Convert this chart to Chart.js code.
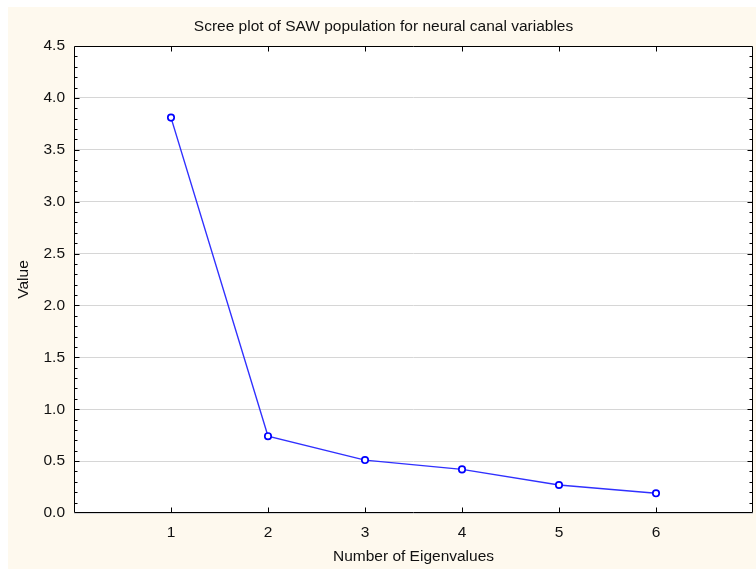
<!DOCTYPE html>
<html>
<head>
<meta charset="utf-8">
<script src="https://cdn.jsdelivr.net/npm/chart.js@4/dist/chart.umd.min.js"></script>
<style>
  html, body { margin: 0; padding: 0; background: #fff; }
  #wrap { width: 756px; height: 569px; }
</style>
</head>
<body>
<div id="wrap"><canvas id="scree" width="756" height="569"></canvas></div>
<script>
// eigenvalue number vs eigenvalue
const eigenNumbers = [1, 2, 3, 4, 5, 6];
const eigenValues = [3.81, 0.74, 0.51, 0.42, 0.27, 0.19];
const yTicks = [0, 0.5, 1, 1.5, 2, 2.5, 3, 3.5, 4, 4.5];
const xRange = [0, 7];

const FONT = '"Liberation Sans", Arial, sans-serif';
const FS = 15.5;

// cream panel behind the plot, white strip on the left/top
const panelBg = {
  id: 'panelBg',
  beforeDraw(chart) {
    const { ctx, width, height } = chart;
    ctx.save();
    ctx.fillStyle = '#ffffff';
    ctx.fillRect(0, 0, width, height);
    ctx.fillStyle = '#fef9ee';
    ctx.fillRect(8, 7, width - 8, height - 7);
    const a = chart.chartArea;
    ctx.fillStyle = '#ffffff';
    ctx.fillRect(a.left, a.top, a.right - a.left, a.bottom - a.top);
    ctx.restore();
  }
};

// box frame with inward ticks (minor every 0.1 on y)
const frameTicks = {
  id: 'frameTicks',
  beforeDatasetsDraw(chart) {
    const { ctx, chartArea: a, scales: { x, y } } = chart;
    ctx.save();
    ctx.strokeStyle = '#000';
    ctx.lineWidth = 1;
    ctx.beginPath();
    const L = Math.round(a.left) + 0.5, R = Math.round(a.right) - 0.5;
    const T = Math.round(a.top) + 0.5, B = Math.round(a.bottom) - 0.5;
    ctx.rect(L, T, R - L, B - T);
    const top = yTicks[yTicks.length - 1];
    for (let i = 1; i < Math.round(top * 10); i++) {
      const py = Math.round(y.getPixelForValue(i / 10)) + 0.5;
      const len = i % 5 === 0 ? 5 : 3;
      ctx.moveTo(L, py); ctx.lineTo(L + len, py);
      ctx.moveTo(R, py); ctx.lineTo(R - len, py);
    }
    for (const n of eigenNumbers) {
      const px = Math.round(x.getPixelForValue(n)) + 0.5;
      ctx.moveTo(px, T); ctx.lineTo(px, T + 5);
      ctx.moveTo(px, B); ctx.lineTo(px, B - 5);
    }
    ctx.stroke();
    ctx.restore();
  }
};

new Chart(document.getElementById('scree'), {
  type: 'line',
  data: {
    datasets: [{
      data: eigenNumbers.map((n, i) => ({ x: n, y: eigenValues[i] })),
      borderColor: '#3030ff',
      borderWidth: 1.4,
      pointStyle: 'circle',
      pointRadius: 3.2,
      pointBorderWidth: 1.7,
      pointBorderColor: '#0000ff',
      pointBackgroundColor: '#ffffff',
      tension: 0,
      fill: false
    }]
  },
  options: {
    responsive: false,
    animation: false,
    devicePixelRatio: 1,
    layout: { autoPadding: false, padding: { left: 14, right: 3, top: 0, bottom: 0 } },
    plugins: {
      legend: { display: false },
      tooltip: { enabled: false },
      title: {
        display: true,
        text: 'Scree plot of SAW population for neural canal variables',
        color: '#111',
        font: { family: FONT, size: FS, weight: 'normal', lineHeight: '16px' },
        padding: { top: 19, bottom: 11 }
      }
    },
    scales: {
      x: {
        type: 'linear',
        min: xRange[0],
        max: xRange[1],
        afterBuildTicks(scale) {
          scale.ticks = eigenNumbers.map(v => ({ value: v }));
        },
        afterFit(scale) {
          scale.height = 56;
          scale.paddingLeft = 0;
          scale.paddingRight = 0;
        },
        grid: { display: false, drawTicks: false },
        border: { display: false },
        ticks: {
          color: '#111',
          padding: 10,
          font: { family: FONT, size: FS },
          callback: v => String(v)
        },
        title: {
          display: true,
          text: 'Number of Eigenvalues',
          color: '#111',
          font: { family: FONT, size: FS },
          padding: { top: 0, bottom: 3 }
        }
      },
      y: {
        type: 'linear',
        min: yTicks[0],
        max: yTicks[yTicks.length - 1],
        afterBuildTicks(scale) {
          scale.ticks = yTicks.map(v => ({ value: v }));
        },
        afterFit(scale) {
          scale.width = 60;
          scale.paddingTop = 0;
          scale.paddingBottom = 0;
        },
        grid: { color: '#d6d6d6', lineWidth: 1, drawTicks: false },
        border: { display: false },
        ticks: {
          color: '#111',
          padding: 9,
          font: { family: FONT, size: FS },
          callback: v => Number(v).toFixed(1)
        },
        title: {
          display: true,
          text: 'Value',
          color: '#111',
          font: { family: FONT, size: FS },
          padding: { top: 0, bottom: 0 }
        }
      }
    }
  },
  plugins: [panelBg, frameTicks]
});
</script>
</body>
</html>
